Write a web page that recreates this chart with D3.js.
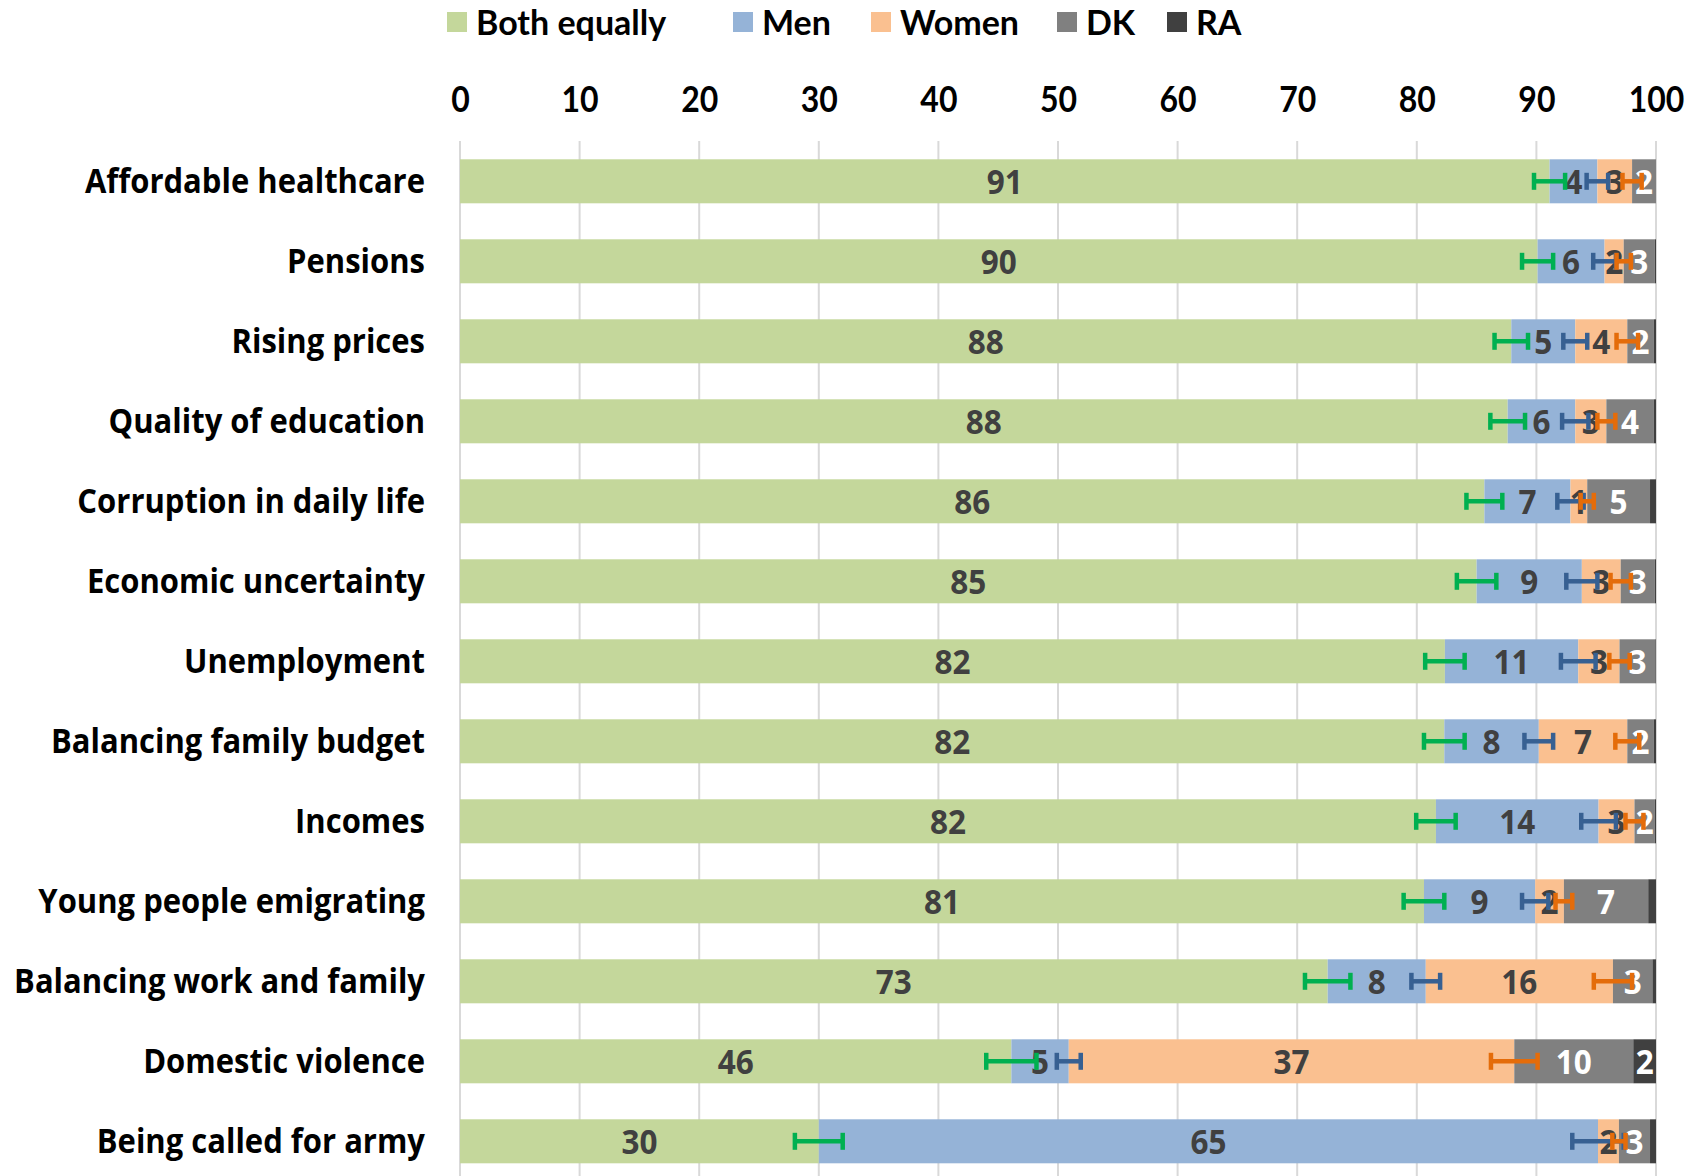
<!DOCTYPE html>
<html>
<head>
<meta charset="utf-8">
<script src="https://cdn.jsdelivr.net/npm/d3@7"></script>
<style>
  body { margin: 0; background: #fff; }
  .grid { stroke: #d9d9d9; stroke-width: 2; }
  .cat { font-family: "Open Sans", sans-serif; font-weight: 700; font-size: 31px; fill: #000; }
  .val { font-family: "Open Sans", sans-serif; font-weight: 700; font-size: 31.5px; }
  .tick text { font-family: Lato, sans-serif; font-weight: 700; font-size: 32px; fill: #000; }
  .legend text { font-family: Lato, sans-serif; font-weight: 700; font-size: 34px; fill: #000; }
</style>
</head>
<body>
<div class="container"></div>
<script>
const WIDTH = 1691;
const HEIGHT = 1176;
const STRETCH = 1.1; // text in the source is a bit taller than wide

// data (percent)
var categories = ["Affordable healthcare", "Pensions", "Rising prices", "Quality of education",
  "Corruption in daily life", "Economic uncertainty", "Unemployment", "Balancing family budget",
  "Incomes", "Young people emigrating", "Balancing work and family", "Domestic violence",
  "Being called for army"];
var seriesNames = ["Both equally", "Men", "Women", "DK", "RA"];
var both  = [91.1, 90.1, 87.9, 87.6, 85.65, 85.0, 82.35, 82.3, 81.6, 80.6, 72.55, 46.1, 30.0];
var men   = [4.0, 5.6, 5.35, 5.65, 7.2, 8.8, 11.15, 7.9, 13.6, 9.3, 8.2, 4.8, 65.15];
var women = [2.9, 1.6, 4.35, 2.6, 1.4, 3.25, 3.45, 7.4, 3.0, 2.4, 15.65, 37.25, 1.75];
var dk    = [2.0, 2.6, 2.2, 3.95, 5.25, 2.85, 3.0, 2.2, 1.7, 7.05, 3.3, 9.95, 2.6];
var ra    = [0.0, 0.1, 0.2, 0.2, 0.5, 0.1, 0.05, 0.2, 0.1, 0.65, 0.3, 1.9, 0.5];
// error margins (+/-) for the first three series
var errBoth  = [1.3, 1.3, 1.4, 1.45, 1.5, 1.65, 1.65, 1.7, 1.65, 1.7, 1.9, 2.1, 2.0];
var errMen   = [0.9, 0.95, 1.0, 1.1, 1.1, 1.3, 1.45, 1.2, 1.45, 1.1, 1.2, 1.0, 2.15];
var errWomen = [0.8, 0.6, 0.9, 0.75, 0.55, 0.85, 0.85, 1.0, 0.75, 0.7, 1.6, 1.95, 0.55];
var xTicks = [0, 10, 20, 30, 40, 50, 60, 70, 80, 90, 100];

var colors = ["#c4d79b", "#95b3d7", "#fac090", "#808080", "#404040"];
var labelColors = ["#404040", "#404040", "#404040", "#fff", "#fff"];
var errColors = ["#00b050", "#376092", "#e46c0a"];
var legendX = [447, 733, 871, 1057, 1167];

var seriesValues = [both, men, women, dk, ra];
var seriesErr = [errBoth, errMen, errWomen];

var rows = categories.map(function(c, i){
  var r = {cat: c};
  seriesNames.forEach(function(s, k){ r[s] = seriesValues[k][i]; });
  return r;
});

var place = function(x, y){
  return "translate(" + x + "," + y + ") scale(1," + STRETCH + ")";
};

var svg = d3.select('.container').append('svg')
  .attr('width', WIDTH)
  .attr('height', HEIGHT);

var xScale = d3.scaleLinear().domain([0, 100]).range([460, 1656]);
var yScale = d3.scaleBand().domain(categories).range([141.3, 1181.3])
  .paddingInner(0.45).paddingOuter(0.225);

// gridlines
svg.append('g').selectAll('line').data(xTicks).join('line')
  .classed('grid', true)
  .attr('x1', function(d){ return xScale(d); })
  .attr('x2', function(d){ return xScale(d); })
  .attr('y1', 141).attr('y2', HEIGHT);

// top axis labels
var xAxis = d3.axisTop(xScale).tickValues(xTicks).tickSize(0).tickPadding(0);
var ax = svg.append('g').attr('transform', 'translate(0,112)').call(xAxis);
ax.select('.domain').remove();
ax.selectAll('text').attr('font-family', null).attr('font-size', null)
  .attr('y', null).attr('dy', null)
  .attr('transform', 'scale(1,' + (STRETCH + 0.05) + ')');

var stacked = d3.stack().keys(seriesNames)(rows);

var layers = svg.append('g').selectAll('g').data(stacked).join('g')
  .attr('fill', function(d, k){ return colors[k]; });

layers.selectAll('rect').data(function(d){ return d; }).join('rect')
  .attr('x', function(d){ return xScale(d[0]); })
  .attr('width', function(d){ return xScale(d[1]) - xScale(d[0]); })
  .attr('y', function(d){ return yScale(d.data.cat); })
  .attr('height', yScale.bandwidth());

// value labels (segments under 1% get none)
stacked.forEach(function(layer, k){
  svg.append('g').selectAll('text')
    .data(layer.filter(function(d){ return d[1] - d[0] >= 1; }))
    .join('text')
    .classed('val', true)
    .attr('fill', labelColors[k])
    .attr('text-anchor', 'middle')
    .attr('transform', function(d){
      return place((xScale(d[0]) + xScale(d[1])) / 2, yScale(d.data.cat) + yScale.bandwidth() / 2 + 12.5);
    })
    .text(function(d){ return Math.round(d[1] - d[0]); });
});

// error bars at the end of each of the first three segments
var CAP = 8.5;
stacked.slice(0, 3).forEach(function(layer, k){
  var g = svg.append('g').attr('stroke', errColors[k]).attr('stroke-width', 4.5);
  layer.forEach(function(d, i){
    var cy = yScale(d.data.cat) + yScale.bandwidth() / 2;
    var e = seriesErr[k][i];
    var x1 = xScale(d[1] - e), x2 = xScale(d[1] + e);
    g.append('line').attr('x1', x1).attr('x2', x2).attr('y1', cy).attr('y2', cy);
    g.append('line').attr('x1', x1).attr('x2', x1).attr('y1', cy - CAP).attr('y2', cy + CAP);
    g.append('line').attr('x1', x2).attr('x2', x2).attr('y1', cy - CAP).attr('y2', cy + CAP);
  });
});

// category labels
svg.append('g').selectAll('text').data(categories).join('text')
  .classed('cat', true)
  .attr('text-anchor', 'end')
  .attr('transform', function(d){ return place(425, yScale(d) + yScale.bandwidth() / 2 + 12); })
  .text(function(d){ return d; });

// legend
var lg = svg.append('g').classed('legend', true);
seriesNames.forEach(function(s, k){
  var it = lg.append('g').attr('transform', 'translate(' + legendX[k] + ',0)');
  it.append('rect').attr('x', 0).attr('y', 12).attr('width', 20).attr('height', 20)
    .attr('fill', colors[k]);
  it.append('text').attr('x', 29).attr('y', 35).text(s);
});
</script>
</body>
</html>
